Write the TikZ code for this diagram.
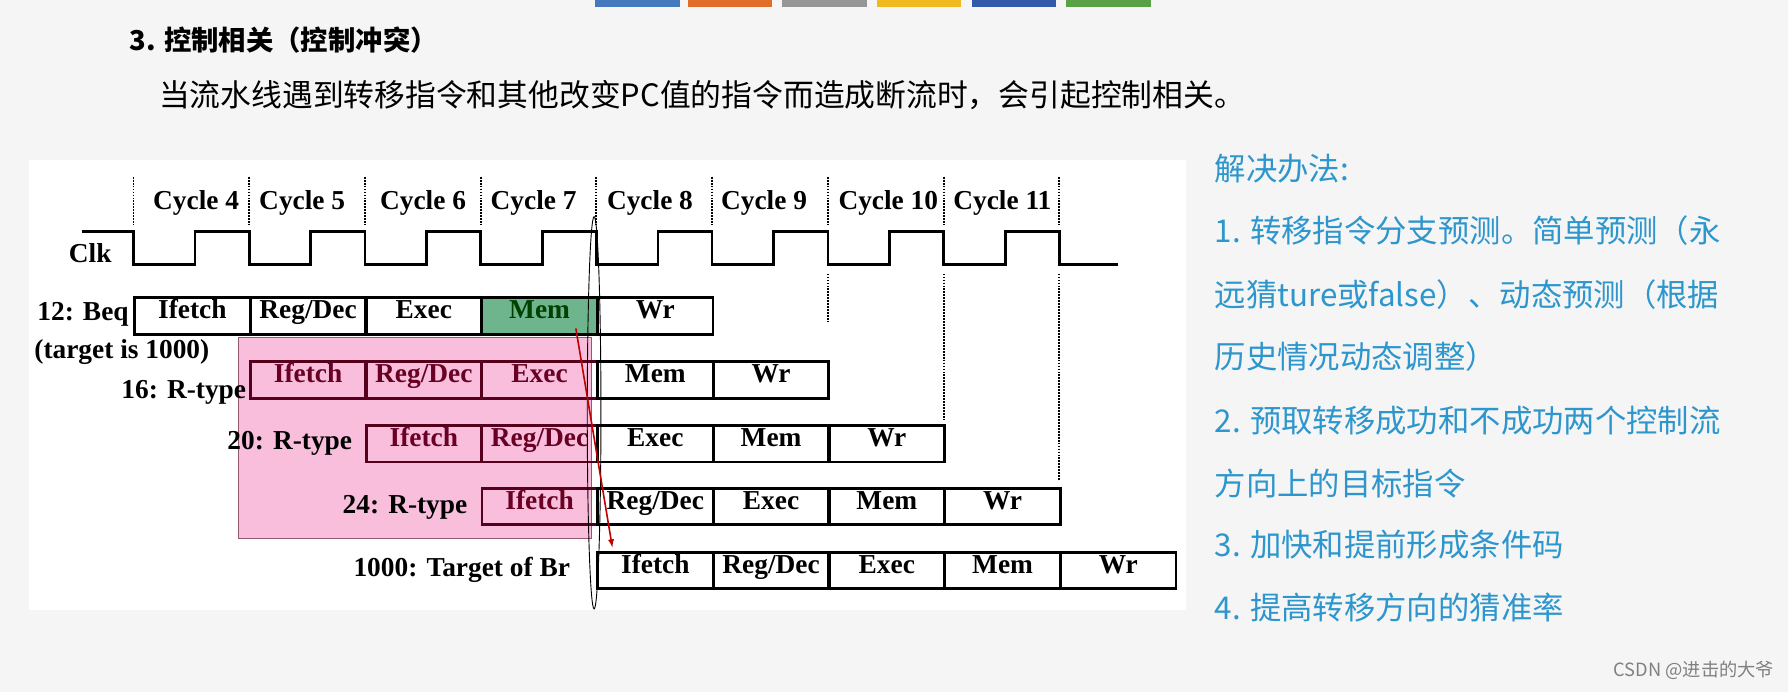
\documentclass[tikz,border=0pt]{standalone}
\usepackage{fontspec}
\setmainfont{Liberation Serif}
\newfontfamily\cjk{Noto Sans CJK SC}
\definecolor{solc}{RGB}{45,150,205}
\definecolor{pinkc}{RGB}{248,190,220}
\definecolor{memc}{RGB}{110,180,140}
\definecolor{bA}{RGB}{70,120,190}
\definecolor{bB}{RGB}{225,110,40}
\definecolor{bC}{RGB}{150,150,150}
\definecolor{bD}{RGB}{240,185,30}
\definecolor{bE}{RGB}{50,90,170}
\definecolor{bF}{RGB}{90,160,70}
\begin{document}
\begin{tikzpicture}[x=1pt,y=-1pt,
 dfont/.style={font=\fontsize{24}{26}\selectfont\bfseries},
 stage/.style={draw=black,line width=2.4pt,minimum width=101pt,minimum height=32pt,inner sep=0pt,dfont,text height=0.7em,text depth=0.2em,anchor=north west},
 pstage/.style={stage,draw=black!55!purple,text=black!45!purple},
 lbl/.style={dfont,anchor=east,inner sep=0pt},
 cyc/.style={dfont,inner sep=0pt},
 grid/.style={densely dotted,line width=1.6pt},
 sol/.style={font=\cjk\fontsize{27.5}{29}\selectfont,text=solc,anchor=west,inner sep=0pt}]
\useasboundingbox (0,0) rectangle (1568,607);
\fill[gray!8] (0,0) rectangle (1568,607);
\fill[white] (25,140) rectangle (1040,535);
% color bars
\foreach \x/\c in {522/bA,603/bB,686/bC,769/bD,852/bE,935/bF}
  \fill[\c] (\x,0) rectangle ++(74,6);
\node[anchor=west,font=\cjk\fontsize{24}{26}\selectfont\bfseries] (title) at (110,35) {3. 控制相关（控制冲突）};
\node[anchor=west,font=\cjk\fontsize{27}{29}\selectfont] (sub) at (136,83) {当流水线遇到转移指令和其他改变PC值的指令而造成断流时，会引起控制相关。};
% grid lines
\foreach \i/\x in {4/117,5/218.5,6/320,7/421.5,8/523,9/624.5,10/726,11/827.5,12/929}
  \draw[grid] (\x,155) -- (\x,197);
\draw[grid] (726,240) -- (726,282);
\draw[grid] (827.5,240) -- (827.5,368);
\draw[grid] (929,240) -- (929,422);
\foreach \i/\x in {4/172,5/265,6/371,7/468,8/570,9/670,10/779,11/879}
  \node[cyc] (c\i) at (\x,178) {Cycle \i};
% clock
\node[lbl] (clk) at (98,222) {Clk};
\draw[line width=2.4pt] (72,203) -- (117,203)
 \foreach \x in {117,218.5,320,421.5,523,624.5,726,827.5} { -- (\x,203) -- (\x,232) -- (\x+54,232) -- (\x+54,203) } -- (929,203) -- (929,232) -- (980,232);
% pink region
\fill[pinkc,draw=gray!70!purple,line width=1pt] (209,296) rectangle (519,472);
% rows
\node[lbl] (l1) at (113,276) {12: Beq};
\node[lbl,anchor=west] (l1b) at (30,309) {(target is 1000)};
\node[stage] (r1a) at (117,260) {Ifetch};
\node[stage] (r1b) at (218.5,260) {Reg/Dec};
\node[stage] (r1c) at (320,260) {Exec};
\node[stage,fill=memc,text=green!25!black] (r1d) at (421.5,260) {Mem};
\node[stage] (r1e) at (523,260) {Wr};
\node[lbl] (l2) at (216,344) {16: R-type};
\node[pstage] (r2a) at (218.5,316) {Ifetch};
\node[pstage] (r2b) at (320,316) {Reg/Dec};
\node[pstage] (r2c) at (421.5,316) {Exec};
\node[stage] (r2d) at (523,316) {Mem};
\node[stage] (r2e) at (624.5,316) {Wr};
\node[lbl] (l3) at (309,389) {20: R-type};
\node[pstage] (r3a) at (320,372) {Ifetch};
\node[pstage] (r3b) at (421.5,372) {Reg/Dec};
\node[stage] (r3c) at (523,372) {Exec};
\node[stage] (r3d) at (624.5,372) {Mem};
\node[stage] (r3e) at (726,372) {Wr};
\node[lbl] (l4) at (410,445) {24: R-type};
\node[pstage] (r4a) at (421.5,427) {Ifetch};
\node[stage] (r4b) at (523,427) {Reg/Dec};
\node[stage] (r4c) at (624.5,427) {Exec};
\node[stage] (r4d) at (726,427) {Mem};
\node[stage] (r4e) at (827.5,427) {Wr};
\node[lbl] (l5) at (500,500) {1000: Target of Br};
\node[stage] (r5a) at (523,483) {Ifetch};
\node[stage] (r5b) at (624.5,483) {Reg/Dec};
\node[stage] (r5c) at (726,483) {Exec};
\node[stage] (r5d) at (827.5,483) {Mem};
\node[stage] (r5e) at (929,483) {Wr};
% ellipse and arrow
\draw[line width=0.8pt] (521,362) ellipse (6 and 172);
\coordinate (af) at (505,288);
\coordinate (at) at (537,480);
\draw[red!75!black,line width=1.4pt,-latex] (af) -- (at);
% solutions
\node[sol] (s0) at (1065,148) {解决办法:};
\node[sol] (s1) at (1065,202) {1. 转移指令分支预测。简单预测（永};
\node[sol] (s2) at (1065,258) {远猜ture或false）、动态预测（根据};
\node[sol] (s3) at (1065,313) {历史情况动态调整）};
\node[sol] (s4) at (1065,369) {2. 预取转移成功和不成功两个控制流};
\node[sol] (s5) at (1065,424) {方向上的目标指令};
\node[sol] (s6) at (1065,478) {3. 加快和提前形成条件码};
\node[sol] (s7) at (1065,533) {4. 提高转移方向的猜准率};
\node[anchor=east,font=\cjk\fontsize{16}{18}\selectfont,text=gray,inner sep=0pt] (wm) at (1556,588) {CSDN @进击的大爷};
\end{tikzpicture}
\end{document}
